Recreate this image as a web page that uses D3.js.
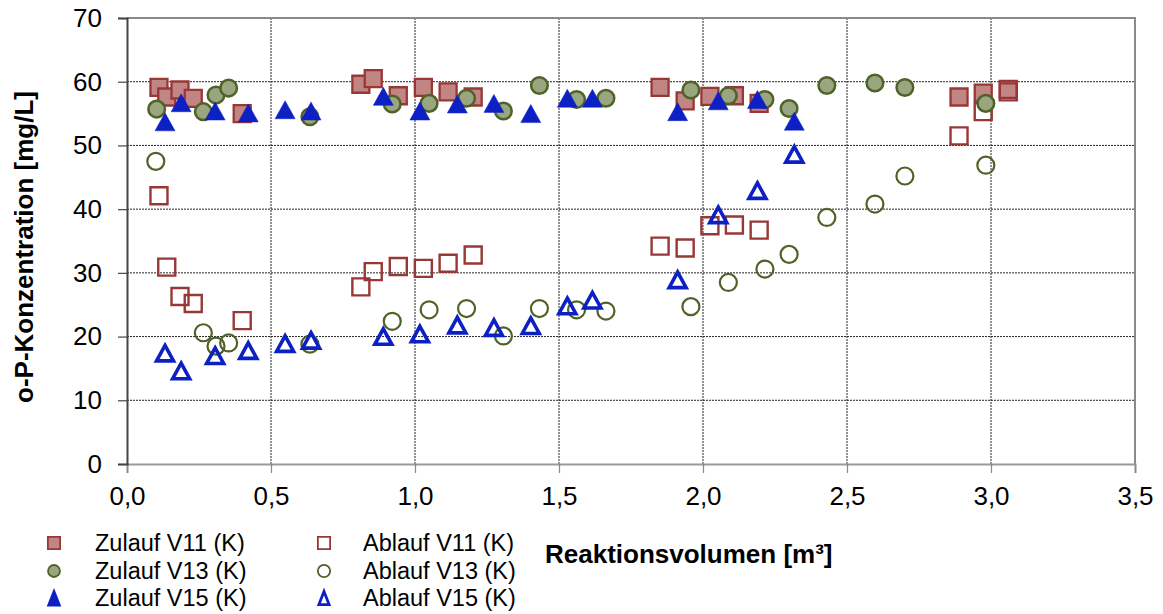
<!DOCTYPE html>
<html><head><meta charset="utf-8">
<script src="https://cdn.jsdelivr.net/npm/d3@7"></script>
<style>
html,body{margin:0;padding:0;background:#fff;}
svg{display:block;font-family:"Liberation Sans",Arial,sans-serif;}
</style></head>
<body>
<svg id="chart" width="1163" height="614"></svg>
<script>
// ---- data ----
const zulaufV11 = [[0.111,59.1],[0.138,57.6],[0.184,58.7],[0.230,57.4],[0.400,55.0],[0.812,59.6],[0.855,60.5],[0.942,57.8],[1.029,59.1],[1.115,58.4],[1.202,57.6],[1.851,59.1],[1.938,57.0],[2.024,57.7],[2.109,57.8],[2.195,56.6],[2.889,57.6],[2.973,58.2],[3.060,58.8]];
const ablaufV11 = [[0.111,42.1],[0.138,30.9],[0.184,26.3],[0.230,25.2],[0.400,22.5],[0.812,27.8],[0.855,30.2],[0.942,31.0],[1.029,30.7],[1.115,31.5],[1.202,32.8],[1.851,34.2],[1.938,33.9],[2.024,37.4],[2.109,37.5],[2.195,36.7],[2.889,51.5],[2.973,55.3],[3.060,58.4]];
const zulaufV13 = [[0.103,55.7],[0.265,55.3],[0.309,57.9],[0.353,59.0],[0.635,54.5],[0.921,56.5],[1.049,56.6],[1.179,57.4],[1.307,55.4],[1.432,59.4],[1.561,57.2],[1.663,57.4],[1.958,58.7],[2.088,57.8],[2.215,57.2],[2.299,55.8],[2.430,59.4],[2.597,59.8],[2.701,59.1],[2.982,56.6]];
const ablaufV13 = [[0.100,47.5],[0.265,20.6],[0.309,18.5],[0.353,19.0],[0.635,18.8],[0.921,22.4],[1.049,24.2],[1.179,24.4],[1.307,20.1],[1.432,24.4],[1.561,24.2],[1.663,24.0],[1.958,24.7],[2.088,28.5],[2.215,30.6],[2.299,32.9],[2.430,38.7],[2.597,40.8],[2.701,45.2],[2.982,46.9]];
const zulaufV15 = [[0.132,53.7],[0.188,56.7],[0.306,55.4],[0.421,55.1],[0.549,55.6],[0.639,55.4],[0.890,57.7],[1.017,55.4],[1.147,56.5],[1.274,56.6],[1.402,55.0],[1.529,57.4],[1.616,57.4],[1.912,55.3],[2.053,57.0],[2.189,57.2],[2.317,53.8]];
const ablaufV15 = [[0.132,17.4],[0.188,14.6],[0.306,17.0],[0.421,17.8],[0.549,18.9],[0.639,19.4],[0.890,20.0],[1.017,20.4],[1.147,21.8],[1.274,21.4],[1.402,21.7],[1.529,24.8],[1.616,25.7],[1.912,28.9],[2.053,39.1],[2.189,42.9],[2.317,48.6]];
const xTicks = [0,0.5,1.0,1.5,2.0,2.5,3.0,3.5];
const yTicks = [0,10,20,30,40,50,60,70];
const seriesNames = ["Zulauf V11 (K)","Ablauf V11 (K)","Zulauf V13 (K)","Ablauf V13 (K)","Zulauf V15 (K)","Ablauf V15 (K)"];
const xTitle = "Reaktionsvolumen [m³]";
const yTitle = "o-P-Konzentration [mg/L]";

// ---- styles ----
const RED = "#983836", REDFILL = "#c18584";
const GREEN = "#4f6228", GREENFILL = "#99a67f";
const BLUE = "#0d20c4";

const series = [
  {name:seriesNames[0], data:zulaufV11, shape:"square", fill:REDFILL, stroke:RED, sw:2.3},
  {name:seriesNames[1], data:ablaufV11, shape:"square", fill:"none", stroke:RED, sw:2.4},
  {name:seriesNames[2], data:zulaufV13, shape:"circle", fill:GREENFILL, stroke:GREEN, sw:2.5},
  {name:seriesNames[3], data:ablaufV13, shape:"circle", fill:"none", stroke:GREEN, sw:2.2},
  {name:seriesNames[4], data:zulaufV15, shape:"triangle", fill:BLUE, stroke:BLUE, sw:0.5},
  {name:seriesNames[5], data:ablaufV15, shape:"triangle", fill:"none", stroke:BLUE, sw:3.6}
];

const svg = d3.select("#chart");
const x = d3.scaleLinear().domain([0,3.5]).range([127,1135]);
const y = d3.scaleLinear().domain([0,70]).range([464,18]);
const fmt = v => d3.format(".1f")(v).replace(".", ",");

// gridlines
svg.append("g").selectAll("line").data(yTicks.filter(t=>t>0 && t<70)).join("line")
  .attr("x1",x(0)).attr("x2",x(3.5)).attr("y1",d=>y(d)).attr("y2",d=>y(d))
  .attr("stroke","#222").attr("stroke-width",1).attr("stroke-dasharray","2,1");
svg.append("g").selectAll("line").data(xTicks.filter(t=>t>0 && t<3.5)).join("line")
  .attr("y1",y(0)).attr("y2",y(70)).attr("x1",d=>x(d)).attr("x2",d=>x(d))
  .attr("stroke","#222").attr("stroke-width",1).attr("stroke-dasharray","2,1");

// border top/right
svg.append("path").attr("d",`M${x(0)},${y(70)}H${x(3.5)}V${y(0)}`)
  .attr("fill","none").attr("stroke","#8a8a8a").attr("stroke-width",2);

// axes
const xAxis = svg.append("g").attr("transform",`translate(0,${y(0)})`)
  .call(d3.axisBottom(x).tickValues(xTicks).tickFormat(fmt).tickSize(9).tickPadding(14));
xAxis.select(".domain").attr("stroke","#999").attr("stroke-width",2);
xAxis.selectAll(".tick line").attr("stroke","#888").attr("stroke-width",1.2);
xAxis.selectAll("text").attr("font-size",26).attr("fill","#000")
  .attr("font-family",'"Liberation Sans",Arial,sans-serif');

const yAxis = svg.append("g").attr("transform",`translate(${x(0)},0)`)
  .call(d3.axisLeft(y).tickValues(yTicks).tickSize(9).tickPadding(16));
yAxis.select(".domain").attr("stroke","#444").attr("stroke-width",2);
yAxis.selectAll(".tick line").attr("stroke","#444").attr("stroke-width",1.2);
yAxis.selectAll("text").attr("font-size",26).attr("fill","#000")
  .attr("font-family",'"Liberation Sans",Arial,sans-serif');

// marker paths
function shapePath(shape, open, legend){
  const k = legend ? 0.72 : 1;
  if(shape==="square"){ const s=17*k; return `M${-s/2},${-s/2}h${s}v${s}h${-s}Z`; }
  if(shape==="circle"){ const r=(open?8.5:8.3)*k; return `M${r},0A${r},${r} 0 1,1 ${-r},0A${r},${r} 0 1,1 ${r},0Z`; }
  const w = (open?17:20)*(legend?0.6:1), h=(open?15.5:18)*(legend?0.85:1);
  return `M0,${-h/2}L${w/2},${h/2}L${-w/2},${h/2}Z`;
}

series.forEach(s=>{
  const open = s.fill==="none";
  svg.append("g").selectAll("path").data(s.data).join("path")
    .attr("d", shapePath(s.shape, open, false))
    .attr("transform", d=>`translate(${x(d[0])},${y(d[1])})`)
    .attr("fill", s.fill).attr("stroke", s.stroke).attr("stroke-width", s.sw)
    .attr("stroke-linejoin","miter");
});

// legend
const legCols = [54, 324], legTextX = [95, 363], legRows = [543, 571, 598];
series.forEach((s,i)=>{
  const col = i%2, row = Math.floor(i/2);
  const open = s.fill==="none";
  svg.append("path").attr("d", shapePath(s.shape, open, true))
    .attr("transform",`translate(${legCols[col]},${legRows[row]})`)
    .attr("fill", s.fill).attr("stroke", s.stroke)
    .attr("stroke-width", s.shape==="triangle" && open ? 2.8 : 1.8);
  svg.append("text").attr("x", legTextX[col]).attr("y", legRows[row]).attr("dy","0.35em")
    .attr("font-size",23.5).attr("fill","#000").text(s.name);
});

// titles
svg.append("text").attr("x",545).attr("y",563).attr("font-size",26).attr("font-weight","bold")
  .attr("fill","#000").text(xTitle);
svg.append("text").attr("transform",`translate(33,${247}) rotate(-90)`).attr("text-anchor","middle")
  .attr("font-size",26).attr("font-weight","bold").attr("fill","#000").text(yTitle);
</script>
</body></html>
